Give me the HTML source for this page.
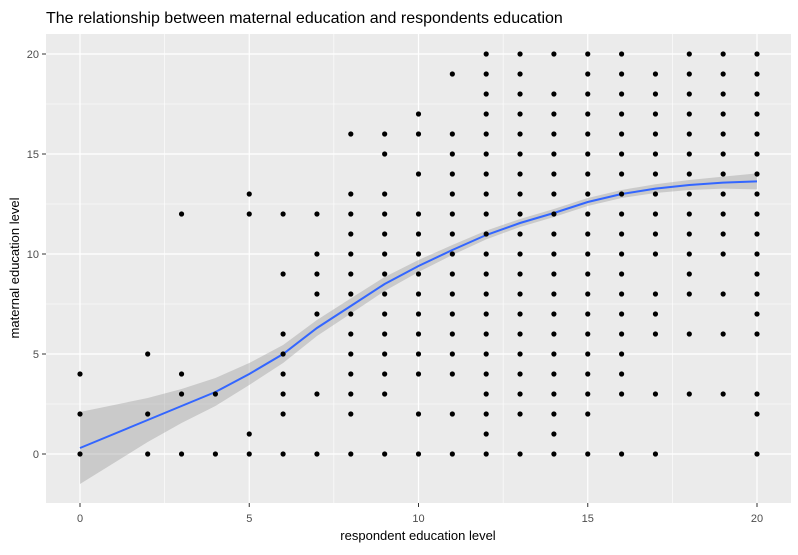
<!DOCTYPE html>
<html><head><meta charset="utf-8"><style>
body{margin:0;background:#fff;font-family:"Liberation Sans",sans-serif;}
svg text{font-family:"Liberation Sans",sans-serif;}
</style></head><body>
<svg id="chart" width="798" height="550" xmlns="http://www.w3.org/2000/svg">
<text x="46" y="23" font-size="16" fill="#000">The relationship between maternal education and respondents education</text>
<rect x="46" y="34" width="745" height="469" fill="#ebebeb"/>
<g id="grid"></g>
<g id="band"></g>
<g id="points"></g>
<g id="axes"></g>
<text x="418" y="540" font-size="13" text-anchor="middle" fill="#000">respondent education level</text>
<text transform="translate(19,268) rotate(-90)" font-size="13" text-anchor="middle" fill="#000">maternal education level</text>
</svg>
<script>
const pointX = [0,2,3,4,5,6,7,8,9,10,11,12,13,14,15,16,17,18,19,20];
const pointYs = [
 [0,2,4],
 [0,2,5],
 [0,3,4,12],
 [0,3],
 [0,1,12,13],
 [0,2,3,4,5,6,9,12],
 [0,3,7,8,9,10,12],
 [0,2,3,4,5,6,7,8,9,10,11,12,13,16],
 [0,3,4,5,6,7,8,9,10,11,12,13,15,16],
 [0,2,4,5,6,7,8,9,10,11,12,14,16,17],
 [0,2,4,5,6,7,8,9,10,11,12,13,14,15,16,19],
 [0,1,2,3,4,5,6,7,8,9,10,11,12,13,14,15,16,17,18,19,20],
 [0,2,3,4,5,6,7,8,9,10,11,12,13,14,15,16,17,18,19,20],
 [0,1,2,3,4,5,6,7,8,9,10,11,12,13,14,15,16,17,18,20],
 [0,2,3,4,5,6,7,8,9,10,11,12,13,14,15,16,17,18,19,20],
 [0,3,4,5,6,7,8,9,10,11,12,13,14,15,16,17,18,19,20],
 [0,3,6,7,8,10,11,12,13,14,15,16,17,18,19],
 [3,6,8,9,10,11,12,13,14,15,16,17,18,19,20],
 [3,6,8,10,11,12,13,14,15,16,17,18,19,20],
 [0,2,3,6,7,8,9,10,11,12,13,14,15,16,17,18,19,20]
];
const smoothX = [0,2,3,4,5,6,7,8,9,10,11,12,13,14,15,16,17,18,19,20];
const smoothY = [0.3,1.7,2.4,3.1,4.0,5.0,6.3,7.4,8.5,9.4,10.2,10.95,11.55,12.05,12.6,13.0,13.27,13.45,13.57,13.63];
const smoothSE = [1.8,1.1,0.85,0.7,0.55,0.45,0.4,0.38,0.35,0.3,0.25,0.22,0.2,0.2,0.2,0.2,0.22,0.25,0.3,0.4];
const xTicks = [0,5,10,15,20];
const yTicks = [0,5,10,15,20];

const NS="http://www.w3.org/2000/svg";
const xs = v => 80 + v*33.85;
const ys = v => 454 - v*20;
function mk(tag, attrs, parent){const e=document.createElementNS(NS,tag);for(const k in attrs)e.setAttribute(k,attrs[k]);parent.appendChild(e);return e;}
const grid=document.getElementById('grid'), band=document.getElementById('band'), pts=document.getElementById('points'), axes=document.getElementById('axes');
for(let i=0;i<xTicks.length-1;i++){
 const m=(xTicks[i]+xTicks[i+1])/2;
 const l=mk('line',{x1:xs(m),x2:xs(m),y1:34,y2:503,stroke:'#fff','stroke-width':0.6},grid);
 
 
 const my=(yTicks[i]+yTicks[i+1])/2;
 const l2=mk('line',{x1:46,x2:791,y1:ys(my),y2:ys(my),stroke:'#fff','stroke-width':0.6},grid);
 
 
}
xTicks.forEach(t=>{
 const l=mk('line',{x1:xs(t),x2:xs(t),y1:34,y2:503,stroke:'#fff','stroke-width':1.2},grid);
 
 
 const k=mk('line',{x1:xs(t),x2:xs(t),y1:503,y2:507,stroke:'#333','stroke-width':1},axes);
 
 
 const tx=mk('text',{x:xs(t),y:522,'font-size':11,'text-anchor':'middle',fill:'#4d4d4d'},axes);
 tx.textContent=t;
 
 
});
yTicks.forEach(t=>{
 const l=mk('line',{x1:46,x2:791,y1:ys(t),y2:ys(t),stroke:'#fff','stroke-width':1.2},grid);
 
 
 const k=mk('line',{x1:42,x2:46,y1:ys(t),y2:ys(t),stroke:'#333','stroke-width':1},axes);
 
 
 const tx=mk('text',{x:39,y:ys(t)+4,'font-size':11,'text-anchor':'end',fill:'#4d4d4d'},axes);
 tx.textContent=t;
 
 
});
pointX.forEach((x,i)=>{pointYs[i].forEach(y=>{
 const c=mk('circle',{cx:xs(x),cy:ys(y),r:2.6,fill:'#000'},pts);
 
 
});});
let up=smoothX.map((x,i)=>xs(x)+','+ys(smoothY[i]+smoothSE[i]));
let dn=smoothX.map((x,i)=>xs(x)+','+ys(smoothY[i]-smoothSE[i])).reverse();
const poly=mk('polygon',{points:up.concat(dn).join(' '),fill:'#999','fill-opacity':0.4},band);


const line=mk('polyline',{points:smoothX.map((x,i)=>xs(x)+','+ys(smoothY[i])).join(' '),fill:'none',stroke:'#3366ff','stroke-width':2},band);


</script>
</body></html>
